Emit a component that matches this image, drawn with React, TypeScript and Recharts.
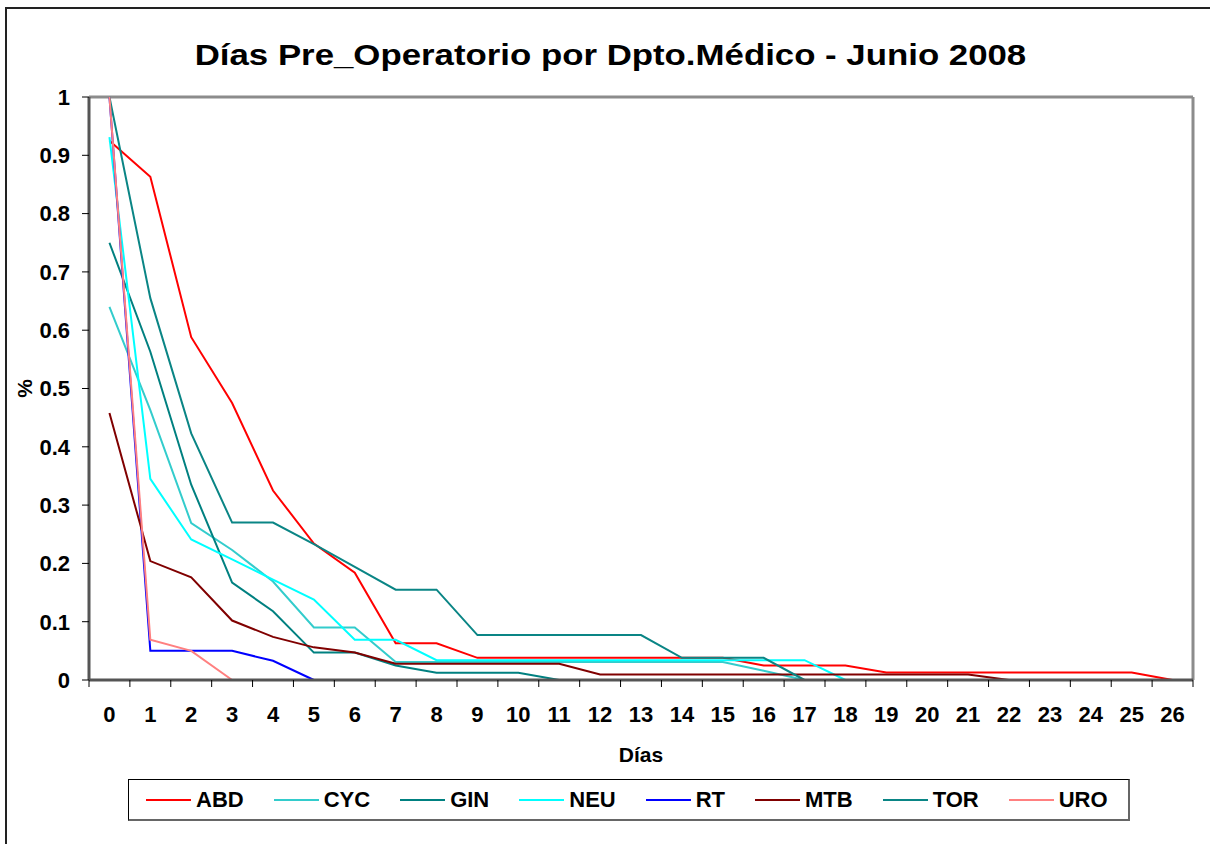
import { Line, LineChart, ReferenceLine, XAxis, YAxis } from "recharts";

const days = [0, 1, 2, 3, 4, 5, 6, 7, 8, 9, 10, 11, 12, 13, 14, 15, 16, 17, 18, 19, 20, 21, 22, 23, 24, 25, 26];
const yTicks = [0, 0.1, 0.2, 0.3, 0.4, 0.5, 0.6, 0.7, 0.8, 0.9, 1];

// share of patients still waiting, per day (null = series ended)
const ABD = [0.925, 0.863, 0.588, 0.475, 0.325, 0.234, 0.184, 0.063, 0.063, 0.038, 0.038, 0.038, 0.038, 0.038, 0.038, 0.038, 0.025, 0.025, 0.025, 0.013, 0.013, 0.013, 0.013, 0.013, 0.013, 0.013, 0];
const CYC = [0.64, 0.463, 0.269, 0.223, 0.169, 0.09, 0.09, 0.031, 0.031, 0.031, 0.031, 0.031, 0.031, 0.031, 0.031, 0.031, 0.016, 0];
const GIN = [0.75, 0.563, 0.335, 0.167, 0.118, 0.047, 0.047, 0.025, 0.0125, 0.0125, 0.0125, 0];
const NEU = [0.931, 0.345, 0.241, 0.207, 0.172, 0.138, 0.069, 0.069, 0.034, 0.034, 0.034, 0.034, 0.034, 0.034, 0.034, 0.034, 0.034, 0.034, 0];
const RT = [1, 0.05, 0.05, 0.05, 0.033, 0];
const MTB = [0.458, 0.204, 0.176, 0.102, 0.074, 0.056, 0.047, 0.028, 0.028, 0.028, 0.028, 0.028, 0.0093, 0.0093, 0.0093, 0.0093, 0.0093, 0.0093, 0.0093, 0.0093, 0.0093, 0.0093, 0];
const TOR = [1, 0.655, 0.423, 0.27, 0.27, 0.233, 0.194, 0.155, 0.155, 0.077, 0.077, 0.077, 0.077, 0.077, 0.038, 0.038, 0.038, 0];
const URO = [1, 0.069, 0.05, 0];

const series = [
  { name: "ABD", values: ABD, color: "#ff0000" },
  { name: "CYC", values: CYC, color: "#33cccc" },
  { name: "GIN", values: GIN, color: "#008080" },
  { name: "NEU", values: NEU, color: "#00ffff" },
  { name: "RT", values: RT, color: "#0000ff" },
  { name: "MTB", values: MTB, color: "#800000" },
  { name: "TOR", values: TOR, color: "#0a8585" },
  { name: "URO", values: URO, color: "#ff8080" },
];

const rows = days.map((day, i) => {
  const row: Record<string, number | null> = { day };
  series.forEach((s) => {
    row[s.name] = s.values[i] ?? null;
  });
  return row;
});

// category boundaries get tick marks, category centres get labels
const xTicks = days.flatMap((d) => [d - 0.5, d]).concat(days[days.length - 1] + 0.5);

const FONT = "'Liberation Sans', Arial, sans-serif";

function DayTick(props: any) {
  const { x, y, payload } = props;
  const v = payload.value;
  if (Number.isInteger(v)) {
    return (
      <text x={x} y={y + 42} textAnchor="middle" fontFamily={FONT} fontWeight="bold" fontSize={22} fill="#000">
        {v}
      </text>
    );
  }
  return <line x1={x} x2={x} y1={y} y2={y + 7} stroke="#000" strokeWidth={1} />;
}

export default function App() {
  return (
    <div style={{ position: "fixed", left: 0, top: 0, width: 1210, height: 844, overflow: "hidden", background: "#fff" }}>
      <div
        style={{
          position: "absolute",
          left: 5,
          top: 7,
          width: 1220,
          height: 860,
          borderLeft: "2px solid #222",
          borderTop: "2px solid #222",
        }}
      />
      <div
        style={{
          position: "absolute",
          left: 0,
          top: 41,
          width: 1220,
          textAlign: "center",
          fontFamily: FONT,
          fontWeight: "bold",
          fontSize: 29,
          lineHeight: "29px",
          color: "#000",
        }}
      >
        <span style={{ display: "inline-block", transform: "scaleX(1.2)", transformOrigin: "center" }}>
          Días Pre_Operatorio por Dpto.Médico - Junio 2008
        </span>
      </div>

      <div style={{ position: "absolute", left: 0, top: 0 }}>
        <LineChart width={1210} height={844} data={rows} margin={{ top: 97, right: 17, left: 0, bottom: 82 }}>
          <XAxis
            dataKey="day"
            type="number"
            domain={[-0.5, 26.5]}
            ticks={xTicks}
            interval={0}
            height={82}
            tickSize={0}
            tickMargin={0}
            tickLine={false}
            tick={<DayTick />}
            axisLine={{ stroke: "#555", strokeWidth: 3 }}
            label={{
              value: "Días",
              position: "insideBottom",
              offset: 0,
              style: { fontFamily: FONT, fontWeight: "bold", fontSize: 21, fill: "#000" },
            }}
          />
          <YAxis
            type="number"
            domain={[0, 1]}
            ticks={yTicks}
            interval={0}
            width={89}
            tickSize={7}
            tickMargin={12}
            tickFormatter={(v) => String(v)}
            tick={{ fontFamily: FONT, fontWeight: "bold", fontSize: 22, fill: "#000" }}
            tickLine={{ stroke: "#000", strokeWidth: 1 }}
            axisLine={{ stroke: "#555", strokeWidth: 3 }}
            label={{
              value: "%",
              angle: -90,
              position: "insideLeft",
              offset: 25,
              style: { fontFamily: FONT, fontWeight: "bold", fontSize: 21, fill: "#000", textAnchor: "middle" },
            }}
          />
          <ReferenceLine y={1} stroke="#8c8c8c" strokeWidth={3} />
          <ReferenceLine x={26.5} stroke="#8c8c8c" strokeWidth={3} />
          {series.map((s) => (
            <Line
              key={s.name}
              type="linear"
              dataKey={s.name}
              stroke={s.color}
              strokeWidth={2}
              dot={false}
              activeDot={false}
              isAnimationActive={false}
            />
          ))}
        </LineChart>
      </div>

      <div
        style={{
          position: "absolute",
          left: 128,
          top: 779,
          width: 1002,
          height: 42,
          boxSizing: "border-box",
          border: "1px solid #000",
          borderBottom: "2px solid #666",
          borderRight: "2px solid #666",
          display: "flex",
          alignItems: "center",
          paddingLeft: 17,
          gap: 30,
          fontFamily: FONT,
          fontWeight: "bold",
          fontSize: 22,
          color: "#000",
        }}
      >
        {series.map((s) => (
          <div key={s.name} style={{ display: "flex", alignItems: "center" }}>
            <span style={{ display: "inline-block", width: 45, height: 2, background: s.color, marginRight: 5 }} />
            <span>{s.name}</span>
          </div>
        ))}
      </div>
    </div>
  );
}
